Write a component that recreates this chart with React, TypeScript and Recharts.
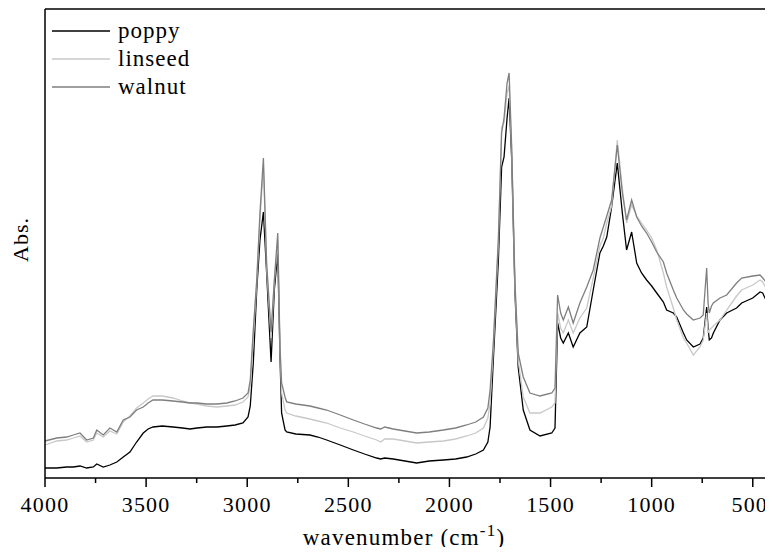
import { LineChart, Line, XAxis, YAxis, ReferenceLine } from 'recharts';

const wavenumbers = [
  4000, 3942, 3893, 3860, 3827, 3794, 3761, 3744, 3712, 3679, 3645, 3613, 3580, 3547, 3514, 3490, 3466, 3420,
  3367, 3320, 3283, 3248, 3200, 3149, 3101, 3060, 3021, 2996, 2985, 2970, 2953, 2937, 2920, 2904, 2882, 2866,
  2849, 2838, 2830, 2813, 2805, 2760, 2690, 2650, 2607, 2540, 2475, 2420, 2360, 2340, 2320, 2278, 2220, 2162,
  2100, 2030, 1970, 1915, 1870, 1832, 1810, 1799, 1783, 1758, 1742, 1730, 1715, 1705, 1692, 1676, 1660, 1635,
  1602, 1552, 1494, 1478, 1465, 1450, 1437, 1412, 1388, 1355, 1321, 1289, 1256, 1239, 1222, 1198, 1170, 1145,
  1124, 1099, 1074, 1050, 1025, 1000, 975, 942, 926, 893, 876, 843, 827, 794, 761, 745, 728, 721, 715, 704,
  695, 662, 629, 580, 555, 500, 464, 451, 430, 415, 400,
];

const poppy = [
  10, 10, 11, 11, 12, 10, 11, 14, 11, 13, 16, 21, 26, 36, 45, 49, 51, 52,
  51, 50, 49, 50, 51, 51, 52, 53, 55, 61, 72, 115, 188, 238, 266, 205, 116, 188,
  225, 121, 65, 48, 46, 44, 43, 41, 38, 33, 28, 24, 20, 19, 20, 19, 17, 15,
  17, 18, 19, 21, 24, 28, 36, 51, 118, 218, 311, 321, 360, 380, 318, 185, 111, 68,
  48, 42, 45, 50, 155, 140, 135, 145, 131, 145, 151, 188, 225, 232, 241, 271, 315, 265,
  228, 246, 215, 205, 198, 192, 185, 176, 168, 165, 161, 145, 138, 131, 134, 140, 171, 150, 138, 140,
  145, 158, 165, 170, 175, 180, 186, 185, 176, 168, 163,
];

const linseed = [
  33, 37, 38, 40, 42, 36, 38, 45, 41, 47, 44, 56, 62, 70, 75, 79, 82, 82,
  80, 77, 75, 74, 72, 71, 72, 73, 76, 81, 92, 140, 195, 258, 312, 210, 140, 195,
  238, 128, 85, 68, 65, 62, 59, 57, 55, 50, 46, 42, 38, 36, 39, 39, 37, 35,
  36, 37, 39, 42, 45, 50, 60, 75, 130, 235, 351, 355, 385, 392, 325, 190, 118, 81,
  65, 65, 71, 75, 165, 150, 145, 158, 145, 160, 170, 200, 232, 240, 255, 272, 338, 290,
  255, 273, 262, 255, 248, 240, 228, 205, 191, 170, 158, 140, 135, 123, 131, 138, 165, 145, 148, 150,
  152, 158, 168, 182, 188, 193, 198, 196, 188, 181, 178,
];

const walnut = [
  37, 40, 41, 43, 45, 38, 40, 48, 43, 50, 46, 58, 61, 68, 71, 75, 78, 78,
  77, 76, 75, 75, 74, 74, 75, 77, 80, 85, 98, 148, 198, 265, 320, 215, 146, 198,
  245, 131, 95, 81, 76, 74, 72, 70, 68, 63, 58, 54, 50, 49, 51, 49, 47, 45,
  46, 48, 50, 53, 56, 61, 70, 88, 135, 240, 345, 360, 395, 405, 330, 195, 125, 101,
  85, 82, 85, 90, 183, 165, 158, 171, 155, 175, 191, 208, 240, 251, 262, 278, 333, 285,
  258, 278, 261, 252, 245, 236, 226, 216, 205, 188, 180, 168, 164, 158, 160, 163, 210, 175, 165, 172,
  175, 180, 183, 195, 200, 202, 203, 200, 195, 191, 186,
];

const majorTicks = [4000, 3500, 3000, 2500, 2000, 1500, 1000, 500];
const minorTicks = [3750, 3250, 2750, 2250, 1750, 1250, 750];

const seriesNames = ['poppy', 'linseed', 'walnut'];
const seriesColors = ['#000000', '#c8c8c8', '#7f7f7f'];

const data = wavenumbers.map((w, i) => ({ w, poppy: poppy[i], linseed: linseed[i], walnut: walnut[i] }));

const font = '"Liberation Serif", "Times New Roman", serif';

function XTick(props: any) {
  const { x, y, payload } = props;
  const major = majorTicks.includes(payload.value);
  // the last label sits against the right edge, like in the original
  const dx = payload.value === 500 ? -3 : 0;
  return (
    <g>
      <line x1={x} x2={x} y1={y} y2={y + (major ? 9 : 5)} stroke="#000" strokeWidth={1.5} />
      {major && (
        <text x={x + dx} y={y + 34} textAnchor="middle" fontFamily={font} fontSize={22} letterSpacing={1.2} fill="#000">
          {payload.value}
        </text>
      )}
    </g>
  );
}

function LegendBox() {
  return (
    <div style={{ position: 'absolute', left: 52, top: 17, fontFamily: font, fontSize: 23, letterSpacing: 1, lineHeight: '28px' }}>
      {seriesNames.map((n, i) => (
        <div key={n} style={{ display: 'flex', alignItems: 'center' }}>
          <svg width={66} height={28}>
            <line x1={0} x2={58} y1={14} y2={14} stroke={seriesColors[i]} strokeWidth={1.5} />
          </svg>
          <span style={{ color: '#000' }}>{n}</span>
        </div>
      ))}
    </div>
  );
}

export default function App() {
  return (
    <div style={{ margin: -8, background: '#fff', width: 773, height: 555, position: 'relative', overflow: 'hidden' }}>
      <LineChart width={773} height={555} data={data} margin={{ top: 9, right: 0, bottom: 0, left: 0 }}>
        <XAxis
          dataKey="w"
          type="number"
          domain={[400, 4000]}
          reversed
          ticks={[...majorTicks, ...minorTicks]}
          interval={0}
          tick={<XTick />}
          tickLine={false}
          tickSize={0}
          tickMargin={0}
          height={77}
          axisLine={{ stroke: '#000', strokeWidth: 1.5 }}
        />
        <YAxis
          type="number"
          domain={[0, 469]}
          tick={false}
          tickLine={false}
          width={45}
          axisLine={{ stroke: '#000', strokeWidth: 1.5 }}
        />
        <ReferenceLine y={469} stroke="#000" strokeWidth={1.5} />
        <Line type="linear" dataKey="poppy" stroke={seriesColors[0]} strokeWidth={1.3} dot={false} isAnimationActive={false} />
        <Line type="linear" dataKey="linseed" stroke={seriesColors[1]} strokeWidth={1.3} dot={false} isAnimationActive={false} />
        <Line type="linear" dataKey="walnut" stroke={seriesColors[2]} strokeWidth={1.3} dot={false} isAnimationActive={false} />
      </LineChart>
      <LegendBox />
      <div
        style={{
          position: 'absolute',
          left: 0,
          top: 242,
          width: 40,
          fontFamily: font,
          fontSize: 22,
          transform: 'rotate(-90deg)',
          transformOrigin: '20px 0',
          textAlign: 'center',
          letterSpacing: 1,
          marginLeft: -12,
        }}
      >
        Abs.
      </div>
      <div
        style={{
          position: 'absolute',
          left: 0,
          width: 773,
          top: 521,
          textAlign: 'center',
          paddingLeft: 45,
          boxSizing: 'border-box',
          fontFamily: font,
          fontSize: 23,
          letterSpacing: 1.2,
          whiteSpace: 'nowrap',
        }}
      >
        <span style={{ position: 'relative', left: -5 }}>
          wavenumber (cm<sup style={{ fontSize: 17 }}>-1</sup>)
        </span>
      </div>
    </div>
  );
}
